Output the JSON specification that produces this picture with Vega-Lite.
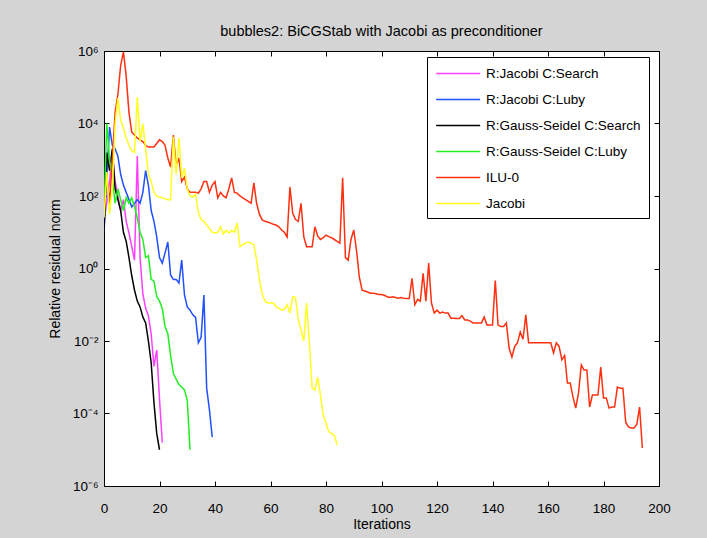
{
"$schema":"https://vega.github.io/schema/vega-lite/v6.json",
"width":555,"height":435,"autosize":"none",
"padding":{"left":104,"top":51,"right":48,"bottom":52},
"background":"#d4d4d4",
"title":{"text":"bubbles2: BiCGStab with Jacobi as preconditioner","fontSize":14.5,"fontWeight":"normal","font":"Liberation Sans","color":"#000","offset":5},
"config":{"view":{"fill":"white","stroke":"#000","strokeWidth":1},"font":"Liberation Sans"},
"data":{"values":[
{"method":"R:Jacobi C:Search","iteration":0,"residual":20},{"method":"R:Jacobi C:Search","iteration":1,"residual":63.1},{"method":"R:Jacobi C:Search","iteration":2,"residual":251},{"method":"R:Jacobi C:Search","iteration":3,"residual":1580},{"method":"R:Jacobi C:Search","iteration":4,"residual":251},{"method":"R:Jacobi C:Search","iteration":5,"residual":100},{"method":"R:Jacobi C:Search","iteration":6,"residual":39.8},{"method":"R:Jacobi C:Search","iteration":7,"residual":79.4},{"method":"R:Jacobi C:Search","iteration":8,"residual":20},{"method":"R:Jacobi C:Search","iteration":9,"residual":9.55},{"method":"R:Jacobi C:Search","iteration":10,"residual":3.98},{"method":"R:Jacobi C:Search","iteration":11,"residual":1.7},{"method":"R:Jacobi C:Search","iteration":12,"residual":1260},{"method":"R:Jacobi C:Search","iteration":13,"residual":2},{"method":"R:Jacobi C:Search","iteration":14,"residual":0.2},{"method":"R:Jacobi C:Search","iteration":15,"residual":0.0794},{"method":"R:Jacobi C:Search","iteration":16,"residual":0.0501},{"method":"R:Jacobi C:Search","iteration":17,"residual":0.0158},{"method":"R:Jacobi C:Search","iteration":18,"residual":0.002},{"method":"R:Jacobi C:Search","iteration":19,"residual":0.00562},{"method":"R:Jacobi C:Search","iteration":20,"residual":0.000251},{"method":"R:Jacobi C:Search","iteration":21,"residual":0.0000158},
{"method":"R:Jacobi C:Luby","iteration":0,"residual":10},{"method":"R:Jacobi C:Luby","iteration":1,"residual":316},{"method":"R:Jacobi C:Luby","iteration":2,"residual":7940},{"method":"R:Jacobi C:Luby","iteration":3,"residual":2510},{"method":"R:Jacobi C:Luby","iteration":4,"residual":2000},{"method":"R:Jacobi C:Luby","iteration":5,"residual":1260},{"method":"R:Jacobi C:Luby","iteration":6,"residual":398},{"method":"R:Jacobi C:Luby","iteration":7,"residual":200},{"method":"R:Jacobi C:Luby","iteration":8,"residual":126},{"method":"R:Jacobi C:Luby","iteration":9,"residual":79.4},{"method":"R:Jacobi C:Luby","iteration":10,"residual":50.1},{"method":"R:Jacobi C:Luby","iteration":11,"residual":63.1},{"method":"R:Jacobi C:Luby","iteration":12,"residual":79.4},{"method":"R:Jacobi C:Luby","iteration":13,"residual":63.1},{"method":"R:Jacobi C:Luby","iteration":14,"residual":126},{"method":"R:Jacobi C:Luby","iteration":15,"residual":501},{"method":"R:Jacobi C:Luby","iteration":16,"residual":200},{"method":"R:Jacobi C:Luby","iteration":17,"residual":39.8},{"method":"R:Jacobi C:Luby","iteration":18,"residual":20},{"method":"R:Jacobi C:Luby","iteration":19,"residual":7.41},{"method":"R:Jacobi C:Luby","iteration":20,"residual":2},{"method":"R:Jacobi C:Luby","iteration":21,"residual":1.41},{"method":"R:Jacobi C:Luby","iteration":22,"residual":2.69},{"method":"R:Jacobi C:Luby","iteration":23,"residual":5.37},{"method":"R:Jacobi C:Luby","iteration":24,"residual":0.661},{"method":"R:Jacobi C:Luby","iteration":25,"residual":0.501},{"method":"R:Jacobi C:Luby","iteration":26,"residual":0.501},{"method":"R:Jacobi C:Luby","iteration":27,"residual":0.398},{"method":"R:Jacobi C:Luby","iteration":28,"residual":1.7},{"method":"R:Jacobi C:Luby","iteration":29,"residual":0.186},{"method":"R:Jacobi C:Luby","iteration":30,"residual":0.0871},{"method":"R:Jacobi C:Luby","iteration":31,"residual":0.0708},{"method":"R:Jacobi C:Luby","iteration":32,"residual":0.0525},{"method":"R:Jacobi C:Luby","iteration":33,"residual":0.0447},{"method":"R:Jacobi C:Luby","iteration":34,"residual":0.00891},{"method":"R:Jacobi C:Luby","iteration":35,"residual":0.0126},{"method":"R:Jacobi C:Luby","iteration":36,"residual":0.186},{"method":"R:Jacobi C:Luby","iteration":37,"residual":0.000501},{"method":"R:Jacobi C:Luby","iteration":38,"residual":0.000126},{"method":"R:Jacobi C:Luby","iteration":39,"residual":0.0000224},
{"method":"R:Gauss-Seidel C:Search","iteration":0,"residual":10},{"method":"R:Gauss-Seidel C:Search","iteration":1,"residual":1580},{"method":"R:Gauss-Seidel C:Search","iteration":2,"residual":501},{"method":"R:Gauss-Seidel C:Search","iteration":3,"residual":2000},{"method":"R:Gauss-Seidel C:Search","iteration":4,"residual":158},{"method":"R:Gauss-Seidel C:Search","iteration":5,"residual":79.4},{"method":"R:Gauss-Seidel C:Search","iteration":6,"residual":39.8},{"method":"R:Gauss-Seidel C:Search","iteration":7,"residual":10},{"method":"R:Gauss-Seidel C:Search","iteration":8,"residual":5.62},{"method":"R:Gauss-Seidel C:Search","iteration":9,"residual":2},{"method":"R:Gauss-Seidel C:Search","iteration":10,"residual":0.631},{"method":"R:Gauss-Seidel C:Search","iteration":11,"residual":0.251},{"method":"R:Gauss-Seidel C:Search","iteration":12,"residual":0.126},{"method":"R:Gauss-Seidel C:Search","iteration":13,"residual":0.0871},{"method":"R:Gauss-Seidel C:Search","iteration":14,"residual":0.0457},{"method":"R:Gauss-Seidel C:Search","iteration":15,"residual":0.0316},{"method":"R:Gauss-Seidel C:Search","iteration":16,"residual":0.01},{"method":"R:Gauss-Seidel C:Search","iteration":17,"residual":0.00251},{"method":"R:Gauss-Seidel C:Search","iteration":18,"residual":0.0002},{"method":"R:Gauss-Seidel C:Search","iteration":19,"residual":0.0000282},{"method":"R:Gauss-Seidel C:Search","iteration":20,"residual":0.00001},
{"method":"R:Gauss-Seidel C:Luby","iteration":0,"residual":31.6},{"method":"R:Gauss-Seidel C:Luby","iteration":1,"residual":10000},{"method":"R:Gauss-Seidel C:Luby","iteration":2,"residual":1000},{"method":"R:Gauss-Seidel C:Luby","iteration":3,"residual":316},{"method":"R:Gauss-Seidel C:Luby","iteration":4,"residual":63.1},{"method":"R:Gauss-Seidel C:Luby","iteration":5,"residual":158},{"method":"R:Gauss-Seidel C:Luby","iteration":6,"residual":79.4},{"method":"R:Gauss-Seidel C:Luby","iteration":7,"residual":39.8},{"method":"R:Gauss-Seidel C:Luby","iteration":8,"residual":89.1},{"method":"R:Gauss-Seidel C:Luby","iteration":9,"residual":63.1},{"method":"R:Gauss-Seidel C:Luby","iteration":10,"residual":89.1},{"method":"R:Gauss-Seidel C:Luby","iteration":11,"residual":50.1},{"method":"R:Gauss-Seidel C:Luby","iteration":12,"residual":25.1},{"method":"R:Gauss-Seidel C:Luby","iteration":13,"residual":10},{"method":"R:Gauss-Seidel C:Luby","iteration":14,"residual":6.31},{"method":"R:Gauss-Seidel C:Luby","iteration":15,"residual":2},{"method":"R:Gauss-Seidel C:Luby","iteration":16,"residual":2.24},{"method":"R:Gauss-Seidel C:Luby","iteration":17,"residual":0.501},{"method":"R:Gauss-Seidel C:Luby","iteration":18,"residual":0.447},{"method":"R:Gauss-Seidel C:Luby","iteration":19,"residual":0.166},{"method":"R:Gauss-Seidel C:Luby","iteration":20,"residual":0.126},{"method":"R:Gauss-Seidel C:Luby","iteration":21,"residual":0.0794},{"method":"R:Gauss-Seidel C:Luby","iteration":22,"residual":0.0251},{"method":"R:Gauss-Seidel C:Luby","iteration":23,"residual":0.0158},{"method":"R:Gauss-Seidel C:Luby","iteration":24,"residual":0.00398},{"method":"R:Gauss-Seidel C:Luby","iteration":25,"residual":0.00126},{"method":"R:Gauss-Seidel C:Luby","iteration":26,"residual":0.000891},{"method":"R:Gauss-Seidel C:Luby","iteration":27,"residual":0.000631},{"method":"R:Gauss-Seidel C:Luby","iteration":28,"residual":0.000537},{"method":"R:Gauss-Seidel C:Luby","iteration":29,"residual":0.000447},{"method":"R:Gauss-Seidel C:Luby","iteration":30,"residual":0.000234},{"method":"R:Gauss-Seidel C:Luby","iteration":31,"residual":0.00001},
{"method":"ILU-0","iteration":0,"residual":31.6},{"method":"ILU-0","iteration":1,"residual":398},{"method":"ILU-0","iteration":2,"residual":63.1},{"method":"ILU-0","iteration":3,"residual":1000},{"method":"ILU-0","iteration":4,"residual":20000},{"method":"ILU-0","iteration":5,"residual":63100},{"method":"ILU-0","iteration":6,"residual":398000},{"method":"ILU-0","iteration":7,"residual":950000},{"method":"ILU-0","iteration":8,"residual":200000},{"method":"ILU-0","iteration":9,"residual":20000},{"method":"ILU-0","iteration":10,"residual":5750},{"method":"ILU-0","iteration":11,"residual":4790},{"method":"ILU-0","iteration":12,"residual":3980},{"method":"ILU-0","iteration":13,"residual":3550},{"method":"ILU-0","iteration":14,"residual":3160},{"method":"ILU-0","iteration":15,"residual":2510},{"method":"ILU-0","iteration":16,"residual":2240},{"method":"ILU-0","iteration":17,"residual":2240},{"method":"ILU-0","iteration":18,"residual":2240},{"method":"ILU-0","iteration":19,"residual":2820},{"method":"ILU-0","iteration":20,"residual":3550},{"method":"ILU-0","iteration":21,"residual":3160},{"method":"ILU-0","iteration":22,"residual":2510},{"method":"ILU-0","iteration":23,"residual":1120},{"method":"ILU-0","iteration":24,"residual":631},{"method":"ILU-0","iteration":25,"residual":4790},{"method":"ILU-0","iteration":26,"residual":708},{"method":"ILU-0","iteration":27,"residual":1120},{"method":"ILU-0","iteration":28,"residual":251},{"method":"ILU-0","iteration":29,"residual":331},{"method":"ILU-0","iteration":30,"residual":158},{"method":"ILU-0","iteration":31,"residual":126},{"method":"ILU-0","iteration":32,"residual":126},{"method":"ILU-0","iteration":33,"residual":126},{"method":"ILU-0","iteration":34,"residual":120},{"method":"ILU-0","iteration":35,"residual":158},{"method":"ILU-0","iteration":36,"residual":251},{"method":"ILU-0","iteration":37,"residual":251},{"method":"ILU-0","iteration":38,"residual":126},{"method":"ILU-0","iteration":39,"residual":200},{"method":"ILU-0","iteration":40,"residual":251},{"method":"ILU-0","iteration":41,"residual":89.1},{"method":"ILU-0","iteration":42,"residual":126},{"method":"ILU-0","iteration":43,"residual":100},{"method":"ILU-0","iteration":44,"residual":89.1},{"method":"ILU-0","iteration":45,"residual":158},{"method":"ILU-0","iteration":46,"residual":316},{"method":"ILU-0","iteration":47,"residual":126},{"method":"ILU-0","iteration":48,"residual":120},{"method":"ILU-0","iteration":49,"residual":100},{"method":"ILU-0","iteration":50,"residual":89.1},{"method":"ILU-0","iteration":51,"residual":79.4},{"method":"ILU-0","iteration":52,"residual":70.8},{"method":"ILU-0","iteration":53,"residual":63.1},{"method":"ILU-0","iteration":54,"residual":229},{"method":"ILU-0","iteration":55,"residual":63.1},{"method":"ILU-0","iteration":56,"residual":31.6},{"method":"ILU-0","iteration":57,"residual":21.9},{"method":"ILU-0","iteration":58,"residual":20},{"method":"ILU-0","iteration":59,"residual":19.1},{"method":"ILU-0","iteration":60,"residual":17.8},{"method":"ILU-0","iteration":61,"residual":16.6},{"method":"ILU-0","iteration":62,"residual":15.8},{"method":"ILU-0","iteration":63,"residual":14.1},{"method":"ILU-0","iteration":64,"residual":11.5},{"method":"ILU-0","iteration":65,"residual":10},{"method":"ILU-0","iteration":66,"residual":7.41},{"method":"ILU-0","iteration":67,"residual":178},{"method":"ILU-0","iteration":68,"residual":33.9},{"method":"ILU-0","iteration":69,"residual":22.4},{"method":"ILU-0","iteration":70,"residual":20},{"method":"ILU-0","iteration":71,"residual":63.1},{"method":"ILU-0","iteration":72,"residual":7.41},{"method":"ILU-0","iteration":73,"residual":3.98},{"method":"ILU-0","iteration":74,"residual":3.98},{"method":"ILU-0","iteration":75,"residual":3.98},{"method":"ILU-0","iteration":76,"residual":14.1},{"method":"ILU-0","iteration":77,"residual":7.94},{"method":"ILU-0","iteration":78,"residual":6.31},{"method":"ILU-0","iteration":79,"residual":7.08},{"method":"ILU-0","iteration":80,"residual":8.32},{"method":"ILU-0","iteration":81,"residual":7.59},{"method":"ILU-0","iteration":82,"residual":7.08},{"method":"ILU-0","iteration":83,"residual":6.31},{"method":"ILU-0","iteration":84,"residual":5.62},{"method":"ILU-0","iteration":85,"residual":5.01},{"method":"ILU-0","iteration":86,"residual":316},{"method":"ILU-0","iteration":87,"residual":2},{"method":"ILU-0","iteration":88,"residual":1.7},{"method":"ILU-0","iteration":89,"residual":6.31},{"method":"ILU-0","iteration":90,"residual":11.5},{"method":"ILU-0","iteration":91,"residual":3.16},{"method":"ILU-0","iteration":92,"residual":0.589},{"method":"ILU-0","iteration":93,"residual":0.251},{"method":"ILU-0","iteration":94,"residual":0.24},{"method":"ILU-0","iteration":95,"residual":0.224},{"method":"ILU-0","iteration":96,"residual":0.209},{"method":"ILU-0","iteration":97,"residual":0.209},{"method":"ILU-0","iteration":98,"residual":0.2},{"method":"ILU-0","iteration":99,"residual":0.191},{"method":"ILU-0","iteration":100,"residual":0.191},{"method":"ILU-0","iteration":101,"residual":0.182},{"method":"ILU-0","iteration":102,"residual":0.166},{"method":"ILU-0","iteration":103,"residual":0.158},{"method":"ILU-0","iteration":104,"residual":0.166},{"method":"ILU-0","iteration":105,"residual":0.158},{"method":"ILU-0","iteration":106,"residual":0.151},{"method":"ILU-0","iteration":107,"residual":0.158},{"method":"ILU-0","iteration":108,"residual":0.151},{"method":"ILU-0","iteration":109,"residual":0.148},{"method":"ILU-0","iteration":110,"residual":0.148},{"method":"ILU-0","iteration":111,"residual":0.537},{"method":"ILU-0","iteration":112,"residual":0.1},{"method":"ILU-0","iteration":113,"residual":0.141},{"method":"ILU-0","iteration":114,"residual":0.126},{"method":"ILU-0","iteration":115,"residual":0.741},{"method":"ILU-0","iteration":116,"residual":0.126},{"method":"ILU-0","iteration":117,"residual":1.41},{"method":"ILU-0","iteration":118,"residual":0.112},{"method":"ILU-0","iteration":119,"residual":0.0589},{"method":"ILU-0","iteration":120,"residual":0.0708},{"method":"ILU-0","iteration":121,"residual":0.0589},{"method":"ILU-0","iteration":122,"residual":0.0631},{"method":"ILU-0","iteration":123,"residual":0.0589},{"method":"ILU-0","iteration":124,"residual":0.0589},{"method":"ILU-0","iteration":125,"residual":0.0427},{"method":"ILU-0","iteration":126,"residual":0.0427},{"method":"ILU-0","iteration":127,"residual":0.0417},{"method":"ILU-0","iteration":128,"residual":0.0417},{"method":"ILU-0","iteration":129,"residual":0.0501},{"method":"ILU-0","iteration":130,"residual":0.038},{"method":"ILU-0","iteration":131,"residual":0.038},{"method":"ILU-0","iteration":132,"residual":0.0355},{"method":"ILU-0","iteration":133,"residual":0.0316},{"method":"ILU-0","iteration":134,"residual":0.0316},{"method":"ILU-0","iteration":135,"residual":0.0316},{"method":"ILU-0","iteration":136,"residual":0.0316},{"method":"ILU-0","iteration":137,"residual":0.0457},{"method":"ILU-0","iteration":138,"residual":0.0275},{"method":"ILU-0","iteration":139,"residual":0.0275},{"method":"ILU-0","iteration":140,"residual":0.0275},{"method":"ILU-0","iteration":141,"residual":0.468},{"method":"ILU-0","iteration":142,"residual":0.0275},{"method":"ILU-0","iteration":143,"residual":0.0251},{"method":"ILU-0","iteration":144,"residual":0.0251},{"method":"ILU-0","iteration":145,"residual":0.0316},{"method":"ILU-0","iteration":146,"residual":0.00631},{"method":"ILU-0","iteration":147,"residual":0.00363},{"method":"ILU-0","iteration":148,"residual":0.00708},{"method":"ILU-0","iteration":149,"residual":0.00891},{"method":"ILU-0","iteration":150,"residual":0.0178},{"method":"ILU-0","iteration":151,"residual":0.0112},{"method":"ILU-0","iteration":152,"residual":0.0525},{"method":"ILU-0","iteration":153,"residual":0.00891},{"method":"ILU-0","iteration":154,"residual":0.00891},{"method":"ILU-0","iteration":155,"residual":0.00891},{"method":"ILU-0","iteration":156,"residual":0.00891},{"method":"ILU-0","iteration":157,"residual":0.00891},{"method":"ILU-0","iteration":158,"residual":0.00891},{"method":"ILU-0","iteration":159,"residual":0.00891},{"method":"ILU-0","iteration":160,"residual":0.00891},{"method":"ILU-0","iteration":161,"residual":0.00891},{"method":"ILU-0","iteration":162,"residual":0.00468},{"method":"ILU-0","iteration":163,"residual":0.00891},{"method":"ILU-0","iteration":164,"residual":0.00708},{"method":"ILU-0","iteration":165,"residual":0.00302},{"method":"ILU-0","iteration":166,"residual":0.00398},{"method":"ILU-0","iteration":167,"residual":0.000692},{"method":"ILU-0","iteration":168,"residual":0.000692},{"method":"ILU-0","iteration":169,"residual":0.000288},{"method":"ILU-0","iteration":170,"residual":0.000141},{"method":"ILU-0","iteration":171,"residual":0.000372},{"method":"ILU-0","iteration":172,"residual":0.00219},{"method":"ILU-0","iteration":173,"residual":0.00158},{"method":"ILU-0","iteration":174,"residual":0.00158},{"method":"ILU-0","iteration":175,"residual":0.000151},{"method":"ILU-0","iteration":176,"residual":0.000324},{"method":"ILU-0","iteration":177,"residual":0.000324},{"method":"ILU-0","iteration":178,"residual":0.000324},{"method":"ILU-0","iteration":179,"residual":0.00191},{"method":"ILU-0","iteration":180,"residual":0.000269},{"method":"ILU-0","iteration":181,"residual":0.000269},{"method":"ILU-0","iteration":182,"residual":0.000141},{"method":"ILU-0","iteration":183,"residual":0.000151},{"method":"ILU-0","iteration":184,"residual":0.000151},{"method":"ILU-0","iteration":185,"residual":0.000537},{"method":"ILU-0","iteration":186,"residual":0.000501},{"method":"ILU-0","iteration":187,"residual":0.000501},{"method":"ILU-0","iteration":188,"residual":0.0000575},{"method":"ILU-0","iteration":189,"residual":0.0000427},{"method":"ILU-0","iteration":190,"residual":0.0000398},{"method":"ILU-0","iteration":191,"residual":0.0000398},{"method":"ILU-0","iteration":192,"residual":0.0000501},{"method":"ILU-0","iteration":193,"residual":0.000151},{"method":"ILU-0","iteration":194,"residual":0.0000112},
{"method":"Jacobi","iteration":0,"residual":25.1},{"method":"Jacobi","iteration":1,"residual":457},{"method":"Jacobi","iteration":2,"residual":31.6},{"method":"Jacobi","iteration":3,"residual":158},{"method":"Jacobi","iteration":4,"residual":10000},{"method":"Jacobi","iteration":5,"residual":50100},{"method":"Jacobi","iteration":6,"residual":12600},{"method":"Jacobi","iteration":7,"residual":7410},{"method":"Jacobi","iteration":8,"residual":3980},{"method":"Jacobi","iteration":9,"residual":2510},{"method":"Jacobi","iteration":10,"residual":1780},{"method":"Jacobi","iteration":11,"residual":1580},{"method":"Jacobi","iteration":12,"residual":53700},{"method":"Jacobi","iteration":13,"residual":3160},{"method":"Jacobi","iteration":14,"residual":10000},{"method":"Jacobi","iteration":15,"residual":2000},{"method":"Jacobi","iteration":16,"residual":398},{"method":"Jacobi","iteration":17,"residual":251},{"method":"Jacobi","iteration":18,"residual":126},{"method":"Jacobi","iteration":19,"residual":100},{"method":"Jacobi","iteration":20,"residual":93.3},{"method":"Jacobi","iteration":21,"residual":89.1},{"method":"Jacobi","iteration":22,"residual":83.2},{"method":"Jacobi","iteration":23,"residual":79.4},{"method":"Jacobi","iteration":24,"residual":79.4},{"method":"Jacobi","iteration":25,"residual":4270},{"method":"Jacobi","iteration":26,"residual":398},{"method":"Jacobi","iteration":27,"residual":3980},{"method":"Jacobi","iteration":28,"residual":316},{"method":"Jacobi","iteration":29,"residual":589},{"method":"Jacobi","iteration":30,"residual":158},{"method":"Jacobi","iteration":31,"residual":100},{"method":"Jacobi","iteration":32,"residual":93.3},{"method":"Jacobi","iteration":33,"residual":112},{"method":"Jacobi","iteration":34,"residual":35.5},{"method":"Jacobi","iteration":35,"residual":22.4},{"method":"Jacobi","iteration":36,"residual":20},{"method":"Jacobi","iteration":37,"residual":15.8},{"method":"Jacobi","iteration":38,"residual":12.6},{"method":"Jacobi","iteration":39,"residual":10},{"method":"Jacobi","iteration":40,"residual":9.55},{"method":"Jacobi","iteration":41,"residual":10},{"method":"Jacobi","iteration":42,"residual":14.1},{"method":"Jacobi","iteration":43,"residual":8.91},{"method":"Jacobi","iteration":44,"residual":11.2},{"method":"Jacobi","iteration":45,"residual":9.55},{"method":"Jacobi","iteration":46,"residual":11.2},{"method":"Jacobi","iteration":47,"residual":10},{"method":"Jacobi","iteration":48,"residual":17.8},{"method":"Jacobi","iteration":49,"residual":3.98},{"method":"Jacobi","iteration":50,"residual":4.47},{"method":"Jacobi","iteration":51,"residual":5.01},{"method":"Jacobi","iteration":52,"residual":5.25},{"method":"Jacobi","iteration":53,"residual":5.01},{"method":"Jacobi","iteration":54,"residual":4.47},{"method":"Jacobi","iteration":55,"residual":1.7},{"method":"Jacobi","iteration":56,"residual":0.501},{"method":"Jacobi","iteration":57,"residual":0.2},{"method":"Jacobi","iteration":58,"residual":0.126},{"method":"Jacobi","iteration":59,"residual":0.112},{"method":"Jacobi","iteration":60,"residual":0.112},{"method":"Jacobi","iteration":61,"residual":0.112},{"method":"Jacobi","iteration":62,"residual":0.0891},{"method":"Jacobi","iteration":63,"residual":0.0794},{"method":"Jacobi","iteration":64,"residual":0.0708},{"method":"Jacobi","iteration":65,"residual":0.0759},{"method":"Jacobi","iteration":66,"residual":0.1},{"method":"Jacobi","iteration":67,"residual":0.0589},{"method":"Jacobi","iteration":68,"residual":0.166},{"method":"Jacobi","iteration":69,"residual":0.158},{"method":"Jacobi","iteration":70,"residual":0.0398},{"method":"Jacobi","iteration":71,"residual":0.02},{"method":"Jacobi","iteration":72,"residual":0.01},{"method":"Jacobi","iteration":73,"residual":0.112},{"method":"Jacobi","iteration":74,"residual":0.00891},{"method":"Jacobi","iteration":75,"residual":0.000501},{"method":"Jacobi","iteration":76,"residual":0.000447},{"method":"Jacobi","iteration":77,"residual":0.001},{"method":"Jacobi","iteration":78,"residual":0.000316},{"method":"Jacobi","iteration":79,"residual":0.0000912},{"method":"Jacobi","iteration":80,"residual":0.000055},{"method":"Jacobi","iteration":81,"residual":0.0000316},{"method":"Jacobi","iteration":82,"residual":0.0000282},{"method":"Jacobi","iteration":83,"residual":0.0000251},{"method":"Jacobi","iteration":84,"residual":0.0000135}
]},
"layer":[
{"mark":{"type":"line","strokeWidth":1.5,"clip":true},
 "encoding":{
  "x":{"field":"iteration","type":"quantitative","scale":{"domain":[0,200],"nice":false,"zero":false},
   "axis":{"orient":"bottom","values":[0,20,40,60,80,100,120,140,160,180,200],"title":"Iterations","domain":false,"grid":false,"ticks":true,"tickSize":-5,"tickColor":"#000","labelColor":"#000","labelFontSize":13.5,"labelPadding":20,"labelFlush":false,"titleFontSize":14,"titleFontWeight":"normal","titleColor":"#000","titlePadding":3}},
  "y":{"field":"residual","type":"quantitative","scale":{"type":"log","domain":[0.000001,1000000],"nice":false},
   "axis":{"orient":"left","values":[0.000001,0.0001,0.01,1,100,10000,1000000],"labelExpr":"'10' + (datum.value < 0.5 ? '⁻' : '') + ['⁰','¹','²','³','⁴','⁵','⁶'][abs(round(log(datum.value)/LN10))]","title":"Relative residual norm","domain":false,"grid":false,"tickSize":-5,"tickColor":"#000","labelColor":"#000","labelFontSize":13.5,"labelPadding":11,"labelOverlap":false,"titleFontSize":14,"titleFontWeight":"normal","titleColor":"#000","titlePadding":10}},
  "color":{"field":"method","type":"nominal",
   "scale":{"domain":["R:Jacobi C:Search","R:Jacobi C:Luby","R:Gauss-Seidel C:Search","R:Gauss-Seidel C:Luby","ILU-0","Jacobi"],"range":["#ff40ff","#2050ff","#000000","#20f020","#ff3010","#ffff20"]},
   "legend":{"title":null,"orient":"none","legendX":323,"legendY":6,"direction":"vertical","fillColor":"white","strokeColor":"#000","padding":8,"symbolType":"M-1,0H5","symbolSize":215,"symbolStrokeWidth":1.5,"labelFontSize":13.5,"labelColor":"#000","rowPadding":11,"labelOffset":34}}
 }},
{"mark":{"type":"line","opacity":0},
 "encoding":{
  "x":{"field":"iteration","type":"quantitative","scale":{"domain":[0,200],"nice":false,"zero":false},
   "axis":{"orient":"top","values":[0,20,40,60,80,100,120,140,160,180,200],"labels":false,"title":null,"domain":false,"grid":false,"tickSize":-5,"tickColor":"#000"}},
  "y":{"field":"residual","type":"quantitative","scale":{"type":"log","domain":[0.000001,1000000],"nice":false},
   "axis":{"orient":"right","values":[0.000001,0.0001,0.01,1,100,10000,1000000],"labels":false,"title":null,"domain":false,"grid":false,"tickSize":-5,"tickColor":"#000"}}
 }}
],
"resolve":{"axis":{"x":"independent","y":"independent"}}
}
